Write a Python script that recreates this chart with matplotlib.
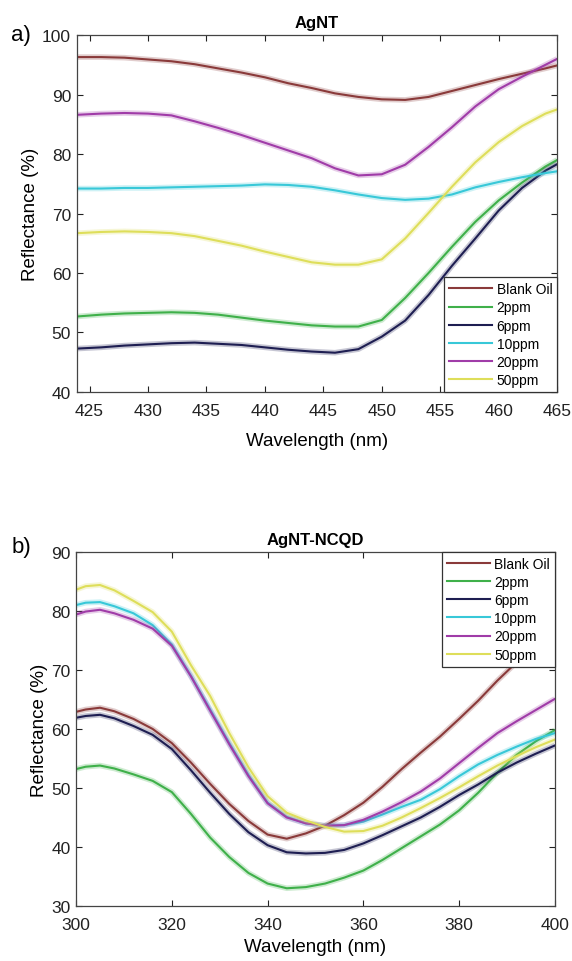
import matplotlib
matplotlib.use("Agg")
import matplotlib.pyplot as plt

plt.rcParams['font.family'] = ['Liberation Sans', 'DejaVu Sans']

labels = ['Blank Oil', '2ppm', '6ppm', '10ppm', '20ppm', '50ppm']
colors = ['#8a3a3a', '#3fb04a', '#1e1e52', '#38c8d8', '#a03ca8', '#dede5a']

# a) AgNT
wl_a = [424, 426, 428, 430, 432, 434, 436, 438, 440, 442, 444, 446, 448, 450,
        452, 454, 456, 458, 460, 462, 464, 465]
blank_a = [96.3, 96.3, 96.2, 95.9, 95.6, 95.1, 94.4, 93.7, 92.9, 91.9, 91.1, 90.2,
           89.6, 89.2, 89.1, 89.6, 90.6, 91.6, 92.6, 93.5, 94.4, 94.9]
ppm2_a = [52.7, 53.0, 53.2, 53.3, 53.4, 53.3, 53.0, 52.5, 52.0, 51.6, 51.2, 51.0,
          51.0, 52.1, 55.8, 60.0, 64.4, 68.6, 72.2, 75.2, 77.9, 79.0]
ppm6_a = [47.3, 47.5, 47.8, 48.0, 48.2, 48.3, 48.1, 47.9, 47.5, 47.1, 46.8, 46.6,
          47.2, 49.3, 52.0, 56.3, 61.2, 65.8, 70.5, 74.3, 77.2, 78.3]
ppm10_a = [74.2, 74.2, 74.3, 74.3, 74.4, 74.5, 74.6, 74.7, 74.9, 74.8, 74.5, 73.9,
           73.2, 72.6, 72.3, 72.5, 73.2, 74.4, 75.3, 76.1, 76.8, 77.1]
ppm20_a = [86.6, 86.8, 86.9, 86.8, 86.5, 85.5, 84.4, 83.2, 81.9, 80.6, 79.3, 77.6,
           76.4, 76.6, 78.2, 81.2, 84.5, 88.0, 90.9, 93.0, 95.0, 96.0]
ppm50_a = [66.7, 66.9, 67.0, 66.9, 66.7, 66.2, 65.4, 64.6, 63.6, 62.7, 61.8, 61.4,
           61.4, 62.3, 65.8, 70.1, 74.5, 78.6, 82.0, 84.7, 86.8, 87.5]

# b) AgNT-NCQD
wl_b = [300, 302, 305, 308, 312, 316, 320, 324, 328, 332, 336, 340, 344, 348, 352,
        356, 360, 364, 368, 372, 376, 380, 384, 388, 392, 396, 400]
blank_b = [62.9, 63.3, 63.6, 63.0, 61.7, 60.0, 57.6, 54.3, 50.7, 47.3, 44.4, 42.1,
           41.4, 42.3, 43.6, 45.4, 47.5, 50.2, 53.2, 56.0, 58.7, 61.7, 64.8, 68.2,
           71.3, 74.2, 77.0]
ppm2_b = [53.2, 53.6, 53.8, 53.3, 52.3, 51.2, 49.3, 45.6, 41.6, 38.3, 35.6, 33.8,
          33.0, 33.2, 33.8, 34.8, 36.0, 37.8, 39.8, 41.8, 43.8, 46.2, 49.2, 52.6,
          55.6, 57.9, 59.8]
ppm6_b = [61.9, 62.2, 62.4, 61.8, 60.5, 59.0, 56.6, 53.0, 49.2, 45.6, 42.5, 40.3,
          39.1, 38.9, 39.0, 39.5, 40.6, 42.0, 43.5, 45.0, 46.8, 48.8, 50.6, 52.6,
          54.3, 55.8, 57.2]
ppm10_b = [81.0, 81.4, 81.5, 80.8, 79.6, 77.6, 74.3, 69.0, 63.3, 57.6, 52.2, 47.5,
           45.1, 44.0, 43.6, 43.7, 44.3, 45.5, 46.8, 48.0, 49.8, 52.0, 54.0, 55.6,
           57.0, 58.3, 59.3]
ppm20_b = [79.4, 79.9, 80.2, 79.6, 78.5, 77.0, 74.1, 68.9, 63.1, 57.4, 52.0, 47.4,
           45.0, 44.0, 43.6, 43.7, 44.6, 46.0, 47.6, 49.4, 51.6, 54.2, 56.8, 59.3,
           61.3, 63.2, 65.1]
ppm50_b = [83.6, 84.2, 84.4, 83.5, 81.7, 79.8, 76.5, 70.8, 65.6, 59.3, 53.5, 48.6,
           45.8, 44.5, 43.4, 42.6, 42.7, 43.6, 45.0, 46.6, 48.3, 50.1, 52.0, 53.8,
           55.4, 56.9, 58.2]

fig = plt.figure(figsize=(5.72, 9.62), dpi=100)
ax1 = fig.add_axes([0.134, 0.5915, 0.840, 0.371])
ax2 = fig.add_axes([0.133, 0.0572, 0.837, 0.368])


def draw(ax, wl, series, title, xlim, ylim, xticks, yticks, loc, xpad):
    for y, c, lab in zip(series, colors, labels):
        ax.plot(wl, y, color=c, lw=4, alpha=0.25, solid_capstyle='butt')
        ax.plot(wl, y, color=c, lw=1.5, label=lab)
    ax.set_xlim(*xlim)
    ax.set_ylim(*ylim)
    ax.set_xticks(xticks)
    ax.set_yticks(yticks)
    ax.tick_params(direction='in', top=True, right=True, labelsize=12.5,
                   length=4, width=0.8, colors='#222222')
    ax.tick_params(axis='x', pad=8)
    ax.tick_params(axis='y', pad=4)
    for s in ax.spines.values():
        s.set_color('#444444')
        s.set_linewidth(0.9)
    ax.set_title(title, fontsize=12, fontweight='bold', pad=6)
    ax.set_xlabel('Wavelength (nm)', fontsize=13.5, labelpad=xpad)
    ax.set_ylabel('Reflectance (%)', fontsize=13.5, labelpad=2)
    handles = ax.get_legend_handles_labels()[0]
    leg = ax.legend(handles, labels, loc=loc, borderaxespad=0, fontsize=10,
                    handlelength=3.1, handletextpad=0.3, labelspacing=0.3,
                    fancybox=False, framealpha=1, borderpad=0.35)
    leg.get_frame().set_edgecolor('#333333')
    leg.get_frame().set_linewidth(0.9)


draw(ax1, wl_a, [blank_a, ppm2_a, ppm6_a, ppm10_a, ppm20_a, ppm50_a], 'AgNT',
     (423.9, 465), (40, 100), range(425, 466, 5), range(40, 101, 10),
     'lower right', 10)
draw(ax2, wl_b, [blank_b, ppm2_b, ppm6_b, ppm10_b, ppm20_b, ppm50_b], 'AgNT-NCQD',
     (300, 400), (30, 90), range(300, 401, 20), range(30, 91, 10),
     'upper right', 4)

fig.text(0.02, 1 - 36 / 962, 'a)', fontsize=16, va='center', ha='left')
fig.text(0.02, 1 - 548 / 962, 'b)', fontsize=16, va='center', ha='left')

fig.savefig('out.png', dpi=100)
